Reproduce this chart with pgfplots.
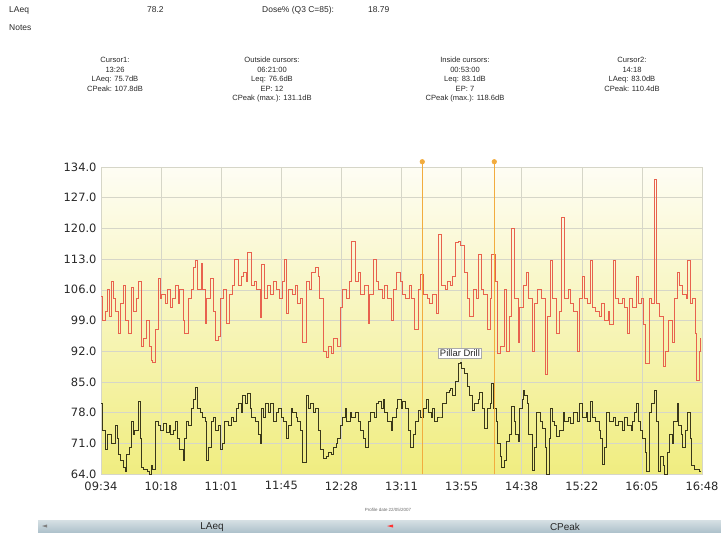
\documentclass[border=0pt]{standalone}
\usepackage{fontspec}
\setmainfont{Liberation Sans}
\newfontfamily\dejavu{DejaVu Sans}
\usepackage{pgfplots}
\pgfplotsset{compat=1.18}

\definecolor{cpeak}{RGB}{232,98,78}
\definecolor{laeq}{RGB}{58,56,26}
\definecolor{cursor}{RGB}{242,172,62}
\definecolor{gridc}{RGB}{214,214,200}
\definecolor{txt}{RGB}{40,40,40}

\begin{document}
\begin{tikzpicture}[x=1bp,y=1bp]
\path[use as bounding box] (0,0) rectangle (721,-533);

% header
\begin{scope}[every node/.style={anchor=west, inner sep=0pt, text=txt, font=\fontsize{8.5}{10}\selectfont}]
\node at (9,-10) {LAeq};
\node at (9,-28) {Notes};
\node at (147,-10) {78.2};
\node at (262,-10) {Dose\% (Q3 C=85):};
\node at (368,-10) {18.79};
\end{scope}

\begin{scope}[every node/.style={anchor=north, inner sep=0pt, text=txt, align=center, font=\fontsize{7.6}{9.6}\selectfont}]
\node at (115,-57) {Cursor1:\\13:26\\LAeq: 75.7dB\\CPeak: 107.8dB};
\node at (272,-57) {Outside cursors:\\06:21:00\\Leq: 76.6dB\\EP: 12\\CPeak (max.): 131.1dB};
\node at (465,-57) {Inside cursors:\\00:53:00\\Leq: 83.1dB\\EP: 7\\CPeak (max.): 118.6dB};
\node at (632,-57) {Cursor2:\\14:18\\LAeq: 83.0dB\\CPeak: 110.4dB};
\end{scope}

\begin{axis}[
    at={(101bp,-474bp)}, anchor=south west,
    scale only axis, width=601bp, height=307bp,
    xmin=0, xmax=434, ymin=64, ymax=134,
    clip=false,
    axis background/.style={shade, top color={rgb,255:red,254;green,253;blue,244}, middle color={rgb,255:red,250;green,248;blue,204}, bottom color={rgb,255:red,240;green,237;blue,128}},
    axis line style={gridc},
    grid=major,
    major grid style={gridc, line width=0.6pt},
    tick style={draw=none},
    xtick={0,43.4,86.8,130.2,173.6,217,260.4,303.8,347.2,390.6,434},
    xticklabels={09:34,10:18,11:01,11:45,12:28,13:11,13:55,14:38,15:22,16:05,16:48},
    ytick={64,71,78,85,92,99,106,113,120,127,134},
    /pgf/number format/assume math mode=true,
    ticklabel style={font=\dejavu\fontsize{11.5}{12}\selectfont, text=txt},
    xticklabel style={yshift=-4bp},
    yticklabel style={xshift=-1bp, /pgf/number format/fixed, /pgf/number format/fixed zerofill, /pgf/number format/precision=1},
]
% CPeak
\addplot[const plot, cpeak, line width=0.9pt] coordinates {
(0,104.4) (1.4,99) (2.9,101) (4.3,106) (5.8,100) (7.2,107.8) (8.7,104) (10.1,101)
(12.3,96) (13.7,103) (15.9,107) (17.3,99) (19.5,96) (21.7,106.5) (23.1,101) (25.3,104)
(26.7,107.8) (28.9,93) (30.3,95) (32.5,99) (34.7,93) (36.1,90) (37.5,89.5) (39.0,97)
(41.2,108.5) (42.6,104) (44.0,105) (46.2,103) (47.7,106) (49.8,102) (51.3,104) (53.4,107)
(55.6,103) (57.0,106) (59.2,99) (60.6,96) (62.8,104) (65.0,106) (66.4,111) (67.9,112.8)
(70.0,106) (72.2,112) (73.6,106) (75.1,98.4) (76.5,104) (78.7,108.5) (80.9,101) (83.0,94.5)
(84.5,95.3) (85.9,104) (88.1,106) (90.3,98.4) (92.4,105) (94.6,107) (96.7,113) (98.9,107)
(101.1,109) (103.2,110) (104.7,108) (106.1,114.6) (108.3,107) (110.5,108) (112.6,106) (114.8,99.8)
(115.5,111.7) (117.7,104) (119.9,107) (122.0,105) (124.2,108) (126.4,106) (128.5,104) (130.7,108)
(132.8,113) (133.6,100.7) (135.7,106) (137.9,105) (140.1,107) (142.2,103) (143.7,104) (145.8,94)
(148.0,108) (150.2,106) (152.3,110) (154.5,111) (156.7,109) (158.1,104) (160.3,92) (162.5,90.5)
(164.6,93) (166.1,91.6) (168.2,95) (170.4,93) (172.6,102) (174.7,106) (176.9,104) (179.1,108)
(181.2,117) (183.4,108) (185.6,110) (187.7,105) (189.9,107) (192.8,98.4) (194.2,105) (196.4,113)
(198.6,108) (200.7,106) (202.9,104) (205.0,107) (207.2,104) (209.4,99) (211.5,106) (213.7,110)
(215.9,108) (218.0,105) (220.2,104) (222.4,107) (224.5,104) (226.7,97) (228.9,106) (231.0,109.4)
(233.2,105) (235.4,104) (237.5,103) (239.7,105) (241.9,100.7) (244.0,118.6) (246.2,107) (248.4,106)
(250.5,108) (252.7,107) (254.1,109) (255.6,116.7) (257.8,117) (259.9,116) (262.1,110) (264.3,104)
(266.4,100) (268.6,106) (270.8,104) (272.2,114) (274.4,106) (276.5,105) (278.7,97) (280.9,104)
(282.3,114) (284.5,108) (286.6,91.6) (288.8,93) (291.0,106) (293.1,92) (295.3,100) (296.7,120)
(298.9,104) (301.1,94) (302.5,102) (304.7,107) (306.9,110) (309.0,104) (311.2,92) (313.3,103)
(315.5,106) (317.7,104) (320.6,86.6) (322.7,100) (324.2,112.8) (326.3,104) (329.2,96) (331.4,101)
(332.8,122.4) (335.0,104) (337.2,106) (339.3,103) (341.5,101) (343.7,92) (345.8,104) (347.3,109)
(349.4,104) (351.6,103) (353.1,112.8) (355.2,102) (357.4,101) (359.6,100) (361.7,103) (363.9,99)
(366.1,101) (367.5,98) (369.7,112.8) (371.8,104) (374.0,103) (376.2,104) (378.3,102) (379.8,96)
(381.9,104) (384.1,102) (386.3,109) (388.4,103) (390.6,104) (392.0,98) (393.5,89.3) (395.7,104)
(397.8,103) (400.0,131.1) (401.4,103) (403.6,100) (405.8,88.5) (407.9,92) (410.1,99) (412.3,94)
(414.4,104) (415.9,110) (418.0,107) (420.2,105) (422.4,104) (423.8,112.8) (426.0,103) (427.4,104)
(428.9,96) (430.3,85.4) (431.8,92) (433.2,95)
};
% LAeq
\addplot[const plot, laeq, line width=0.9pt] coordinates {
(0,80) (1.4,74) (2.9,69.5) (4.3,73) (6.5,73) (7.9,71) (10.1,75) (11.6,72)
(12.3,68.5) (13.7,67) (15.9,65.4) (17.3,64.5) (18.1,68.5) (20.2,70) (21.7,76) (23.1,73)
(24.5,74) (26.7,80.5) (28.2,72) (28.9,65.5) (31.0,65) (33.2,64.5) (34.7,64) (36.1,66)
(37.5,65) (39.0,76) (41.2,75) (42.6,74) (44.8,75.5) (46.9,73.5) (49.1,75) (50.5,73)
(52.0,74) (53.4,76) (54.9,72) (57.0,69.5) (59.2,67) (60.6,72) (61.4,76) (63.5,75)
(65.0,79) (66.4,81) (67.9,83.8) (69.3,80) (70.0,79) (71.5,78) (73.6,77) (75.1,76)
(75.8,67) (77.3,70) (79.4,76) (80.9,77) (83.0,74) (84.5,75) (85.9,69.5) (87.4,71)
(89.5,76) (91.7,75) (93.9,77) (96.0,76) (97.5,79) (98.9,80) (101.1,78) (102.5,82)
(104.0,80) (106.1,82.4) (107.6,79) (109.0,77) (111.2,76) (113.4,73) (114.8,71) (115.5,79)
(117.0,77) (119.1,80) (120.6,78) (122.7,80) (124.2,76) (126.4,78) (127.8,79) (130.0,77)
(132.1,76) (133.6,72) (135.0,75) (137.2,79) (138.6,78) (140.8,77) (142.2,76) (143.7,74)
(145.8,66.7) (148.0,82) (149.5,79) (151.6,80) (153.1,78) (154.5,79) (156.7,74) (158.8,69.5)
(160.3,67.5) (162.5,68) (164.6,69) (166.1,68.5) (168.2,70) (169.7,71) (171.1,72) (172.6,75)
(174.7,77) (176.2,79) (177.6,76) (179.8,78) (181.2,77) (183.4,78) (185.6,76) (187.7,74)
(189.2,72) (190.6,70) (192.8,76) (194.9,78) (197.1,77) (198.6,80) (200.0,80.6) (202.2,79)
(203.6,81) (205.0,78) (207.2,76) (209.4,74) (210.8,77) (213.0,79) (214.4,81) (216.6,79)
(218.0,80.5) (219.5,79) (221.7,74) (223.8,70) (225.3,73) (227.4,76) (228.9,78.5) (231.0,77)
(232.5,79) (234.7,81) (236.1,78) (238.3,77) (239.7,79) (241.1,76) (243.3,77) (245.5,77)
(246.9,80) (249.1,82.6) (251.3,83) (252.7,83.4) (254.1,82) (255.6,85) (257.8,89.3) (259.2,89.5)
(260.6,88) (262.1,87) (264.3,84) (266.4,82) (267.9,78.5) (270.0,80) (272.2,81) (273.6,82.6)
(275.8,79) (277.2,74.5) (279.4,79) (280.9,80) (282.3,84.6) (283.7,79) (285.2,76) (286.6,71)
(288.1,68) (289.5,65.6) (291.0,67) (293.1,71.5) (295.3,73) (296.7,79.5) (298.2,76) (299.6,73)
(301.1,71.5) (302.5,79) (304.0,81) (304.7,83) (306.1,82) (307.6,80) (309.0,73) (311.2,64.7)
(313.3,70) (314.8,78) (317.0,76) (319.1,74.5) (320.6,70) (322.0,64) (323.5,72) (324.2,79)
(326.3,76) (327.8,75) (329.2,72.5) (331.4,74) (333.6,78) (335.0,76) (337.2,77) (339.3,75.5)
(341.5,78) (343.7,76) (345.8,80) (348.0,77) (350.2,78) (351.6,76) (353.1,80.5) (355.2,77)
(357.4,76) (359.6,74) (361.0,72) (362.4,66.2) (363.9,70) (365.3,78) (367.5,76) (369.7,77)
(371.8,75) (374.0,76) (376.2,74) (378.3,77) (380.5,75) (382.7,74) (384.1,76) (385.5,78)
(387.0,80) (388.4,76) (389.9,74) (391.3,72) (392.8,69) (394.2,64.5) (395.7,70) (396.4,78)
(397.8,80) (400.0,83) (401.4,76) (402.2,64.5) (404.3,68) (405.8,66) (407.2,64) (408.7,69)
(410.8,73) (412.3,71) (413.7,76) (415.9,80) (417.3,75) (418.8,73) (420.2,70) (421.7,74)
(423.8,78) (425.3,72) (426.7,66) (428.2,65) (430.3,65) (431.8,64.5) (433.2,64.5)
};
% cursors
\addplot[cursor, line width=0.8pt, mark=*, mark size=2.2pt, mark options={fill=cursor}, mark indices={2}] coordinates {(232,64) (232,135.2)};
\addplot[cursor, line width=0.8pt, mark=*, mark size=2.2pt, mark options={fill=cursor}, mark indices={2}] coordinates {(284,64) (284,135.2)};
\node[anchor=south, draw={rgb,255:red,170;green,170;blue,170}, fill=white, inner sep=1.6bp, font=\fontsize{9.5}{10}\selectfont, text=txt] at (axis cs:259.2,90.4) {Pillar Drill};
\end{axis}

% footer
\node[inner sep=0pt, font=\fontsize{4.5}{5}\selectfont, text=txt!70] at (388,-510) {Profile date 22/05/2007};
\shade[top color={rgb,255:red,214;green,224;blue,228}, bottom color={rgb,255:red,172;green,192;blue,202}] (38,-520) rectangle (721,-533);
\node[inner sep=0pt, font=\fontsize{10}{10}\selectfont, text=txt] at (212,-527) {LAeq};
\node[inner sep=0pt, font=\fontsize{10}{10}\selectfont, text=txt] at (565,-527) {CPeak};
\fill[red!80] (387,-526) -- (393,-524.5) -- (393,-527.5) -- cycle;
\fill[gray] (42,-526) -- (47,-524.5) -- (47,-527.5) -- cycle;
\end{tikzpicture}
\end{document}
